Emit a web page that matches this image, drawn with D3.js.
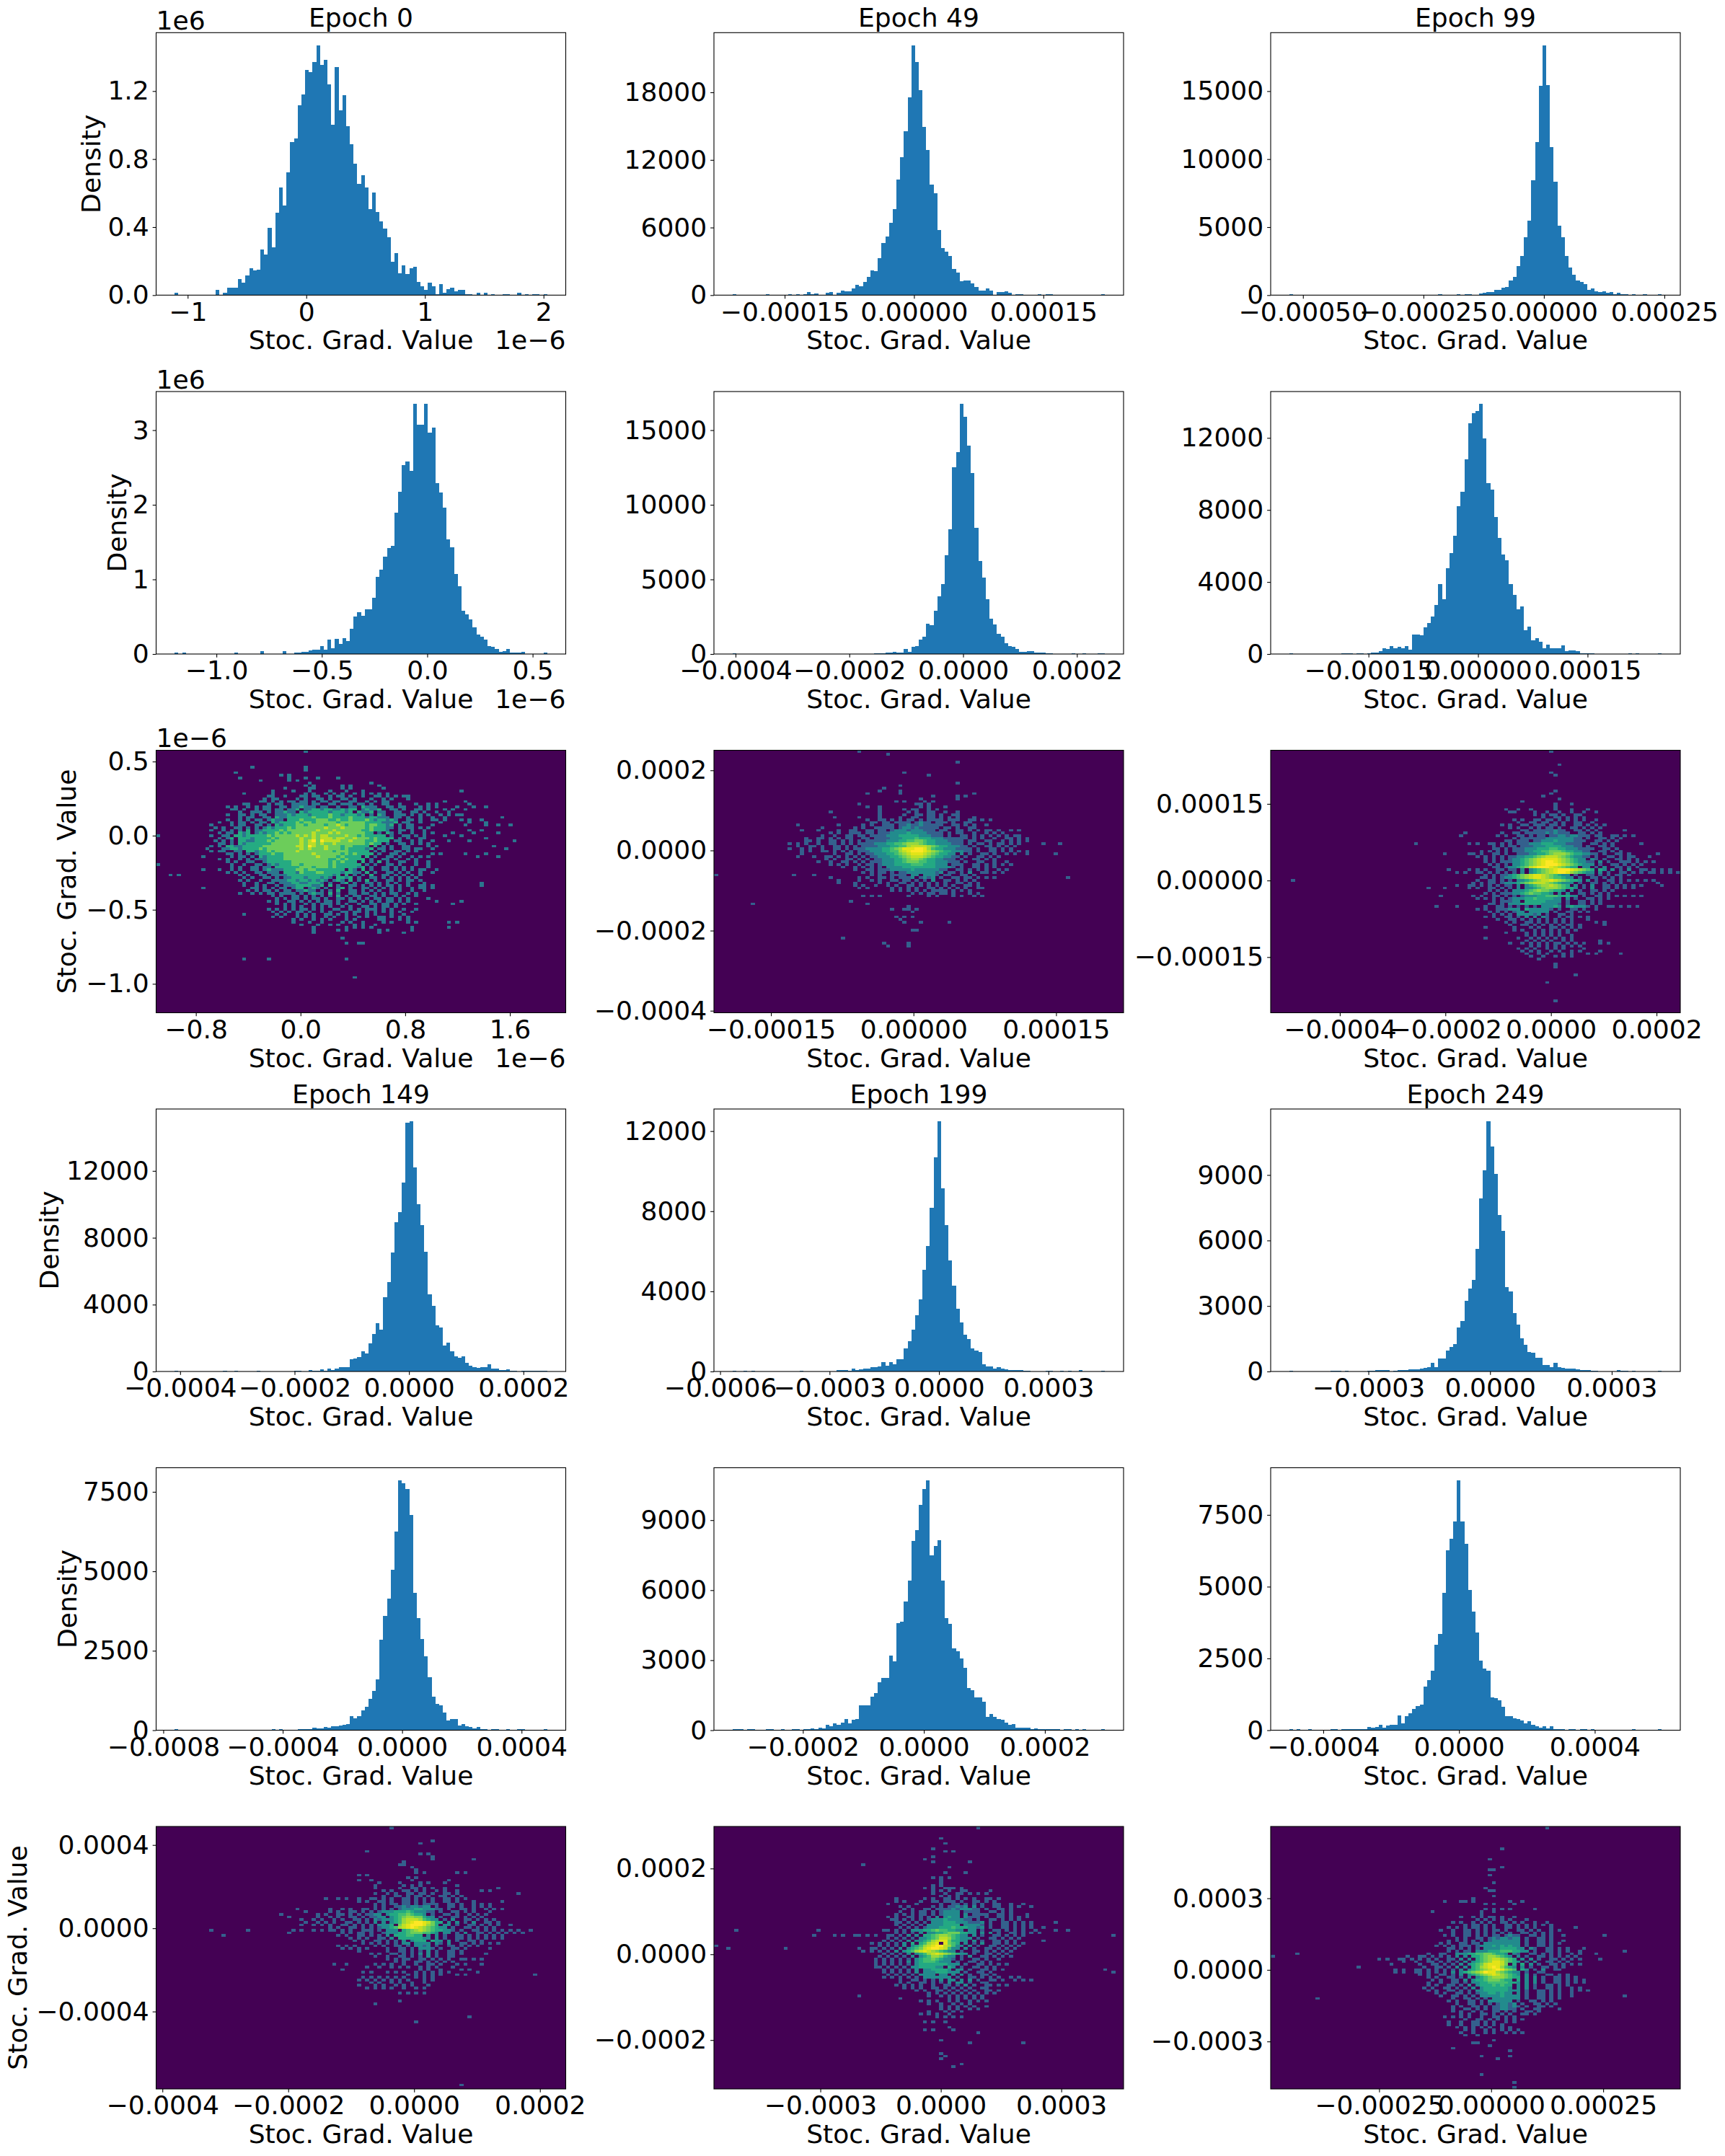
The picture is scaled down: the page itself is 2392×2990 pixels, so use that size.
<!DOCTYPE html>
<html>
<head>
<meta charset="utf-8">
<script src="https://cdn.jsdelivr.net/npm/d3@7"></script>
<style>
  body { margin: 0; background: #fff; }
  text { font-family: "DejaVu Sans", sans-serif; fill: #000; }
</style>
</head>
<body>
<div id="chart"></div>
<script>
// histogram bin heights (100 bins per panel)
const histEpoch0a = [.014,0,0,.003,0,.003,.003,0,.003,0,0,.03,0,.014,.044,.044,.044,.095,.074,.116,.158,.147,.15,.269,.239,.396,.282,.485,.634,.528,.723,.9,.923,1.118,1.181,1.325,1.313,1.372,1.47,1.355,1.385,1.241,1.003,1.343,1.088,1.177,.995,.889,.774,.655,.706,.634,.507,.604,.49,.434,.392,.341,.197,.248,.129,.175,.124,.158,.167,.078,.052,.031,.074,.052,.004,.065,.014,.035,.044,.023,.031,.031,.006,.006,0,.014,0,.014,0,.004,0,0,.004,.004,0,0,.014,0,.004,0,.004,.004,0,.004]
const histEpoch49a = [85,0,0,0,0,0,0,0,0,85,0,0,0,0,0,85,0,85,0,85,280,85,150,0,40,190,280,40,210,400,360,340,600,920,790,1170,1620,2200,2140,3290,4630,5210,6430,7640,10270,12240,14560,17550,22185,20710,18210,14950,12900,9820,9050,5790,4190,3860,3480,2330,2010,1240,1300,1300,1050,700,400,400,600,400,40,280,280,340,235,0,85,85,0,0,0,0,85,0,85,85,0,0,0,0,0,0,0,0,0,0,0,0,0,85]
const histEpoch99a = [70,0,0,0,0,0,0,0,0,0,0,0,0,0,0,0,0,0,0,0,0,0,0,0,0,0,0,0,0,0,0,0,0,0,0,0,0,0,0,0,70,0,0,0,0,70,0,70,70,0,40,120,175,230,230,390,390,550,600,1080,1340,2140,2880,4260,5480,8450,11270,15400,18380,15460,10890,8350,5110,4260,2880,2030,1500,1080,970,810,390,495,280,230,280,175,230,70,175,70,70,0,70,0,0,70,0,0,0,70]
const histEpoch0b = [.02,0,.02,0,0,0,0,0,0,0,0,0,0,0,0,0,.02,0,0,0,0,0,0,.04,0,0,0,0,0,.04,0,0,.02,.02,.03,.03,.05,.06,.06,.11,.06,.19,.08,.2,.14,.21,.17,.34,.5,.56,.51,.6,.6,.75,1.03,1.13,1.3,1.42,1.45,1.89,2.17,2.53,2.58,2.45,3.35,3.07,3.07,3.35,2.97,3.03,2.29,2.16,1.96,1.54,1.43,1.07,.91,.58,.53,.46,.36,.26,.235,.19,.11,.1,.07,.03,.04,.07,.02,.02,.02,.03,0,0,0,0,0,.02]
const histEpoch49b = [60,0,0,0,0,0,0,0,0,0,0,0,0,0,0,0,0,0,0,0,0,0,0,0,0,0,0,0,0,0,0,0,0,0,0,0,0,0,60,60,60,110,110,160,110,110,350,160,500,550,980,1170,2040,1950,2910,3870,4690,6620,8360,12510,13520,16750,15920,13950,12120,8440,6240,5130,3680,2380,1990,1370,1170,740,550,500,350,160,160,210,210,110,110,110,60,60,0,0,0,0,0,60,0,0,60,0,0,0,60,60]
const histEpoch99b = [50,0,0,0,0,0,0,0,0,0,0,0,0,0,50,50,50,0,50,50,0,50,90,90,170,330,290,450,330,410,330,450,250,1090,1090,1050,1490,1730,2090,2730,3890,3050,4770,5610,6570,8200,9000,10800,12800,13360,13480,13880,11960,9480,9120,7600,6450,5530,5210,3890,3290,2490,2650,1330,1530,770,890,690,330,530,330,330,330,490,170,210,210,170,50,50,50,50,0,0,0,0,0,0,0,0,0,50,0,50,0,0,0,0,0,50]
const histEpoch149a = [60,0,0,0,0,0,0,0,0,0,0,0,0,60,0,0,60,0,0,0,0,0,60,0,0,0,0,0,0,0,0,0,60,60,0,0,100,60,60,140,60,190,100,190,270,270,270,750,790,880,1220,1090,1690,2250,2900,2510,4450,5350,7120,8930,9530,11300,14870,14955,12200,10000,8760,7160,4620,3930,2770,2640,1560,1740,1220,920,830,900,530,360,270,230,270,240,430,190,190,100,100,140,60,60,0,60,60,60,60,60,60,60]
const histEpoch199a = [50,0,0,50,0,50,0,0,0,0,0,0,0,0,0,0,0,0,50,0,0,0,0,0,0,0,0,0,85,85,85,50,155,85,120,155,155,230,230,260,480,300,480,370,620,620,1160,1520,2100,2810,3600,5080,6260,8170,10680,12480,9140,7300,5540,4290,3140,2460,1840,1630,1160,1050,980,370,260,260,160,230,160,120,85,85,85,85,50,50,0,0,0,0,50,50,0,0,50,0,50,0,0,85,0,0,0,0,0,50]
const histEpoch249a = [45,0,0,0,0,0,0,0,0,0,0,45,45,45,0,45,0,0,0,0,0,45,45,80,80,80,80,0,45,80,80,80,110,110,110,140,180,210,410,210,600,600,970,1130,1260,2020,2320,3240,3800,4200,5610,7920,9200,11450,10300,9040,7160,6440,3870,3670,2680,2150,1530,1230,900,870,640,640,310,310,210,410,210,180,140,140,140,110,80,80,80,45,45,0,0,0,0,0,80,45,45,0,45,0,0,0,0,0,0,45]
const histEpoch149b = [30,0,0,0,0,0,0,0,0,0,0,0,0,0,0,0,0,0,0,0,0,0,0,0,0,0,30,0,30,0,0,0,0,30,30,30,30,75,50,50,100,75,120,120,140,170,190,440,370,440,620,730,980,1230,1600,2850,3600,4140,5050,6250,7865,7770,7590,6770,4320,3530,2870,2320,1660,1050,830,780,550,300,350,350,140,190,120,100,50,100,30,30,0,30,30,0,0,30,0,0,30,30,0,0,0,0,0,30]
const histEpoch199b = [40,40,40,0,40,40,0,0,0,40,40,0,0,40,0,0,40,40,0,40,40,70,40,100,70,230,165,290,240,320,470,290,440,470,1060,1060,1060,1430,1590,2050,2240,2240,3200,2950,4590,4650,5510,6410,8110,8580,9660,10340,10710,7490,7900,8140,6410,4800,4560,3510,3380,3070,2670,1800,1710,1400,1400,1220,570,690,570,470,440,320,230,260,100,100,100,100,40,70,40,40,40,40,40,40,0,40,40,0,40,0,40,0,0,0,0,40]
const histEpoch249b = [35,0,35,0,0,35,0,0,0,0,0,35,35,0,35,35,35,35,35,35,35,110,85,110,185,85,160,185,185,510,235,490,590,740,840,890,1520,1740,2070,2980,3350,4790,6270,6670,7275,8707,7275,6495,4890,4130,3400,2420,2150,2070,1140,1115,1040,810,490,490,410,385,335,235,310,185,135,85,135,60,135,35,35,35,0,35,35,0,35,35,0,35,0,0,0,0,0,0,0,0,0,0,35,0,0,0,0,0,0,35]

// 2d histogram counts, one entry per row from the top: [first column, one character per column]
const heatEpoch0 = [
[36,'1'],[],[],[],[],[],
[23,'1            1'],
[36,'1'],
[19,'1'],
[30,'1 1'],
[20,'1           1   1  1    1'],
[25,'1      1 1'],
[37,'1              1'],
[36,'1 1      1 1      1'],
[31,'1     11      1 1       1'],
[28,'1    1   1    1   1   1                       1'],
[21,'1      1       1 1  1 1 1  1 1 1 1 1'],
[27,'11  1   11 11  1 11 1  1  11 1 1 11'],
[26,'1 11    1 1  11 1  11 1   1  1 1   1'],
[25,'11 1 1 11 11 1 11 11  11  1 1 11             1    1'],
[21,'11    1 11  1111 11  11 111 11 1  11  1   1  1 1       1'],
[17,'1 1  1 1 11  11 112111 11  1  11 2111  11 11   1 1 1    1   1  1'],
[18,'11 1  1 11 11 112 1122122112122 12112  11 1  11 1   1 1  1'],
[20,'1  111 1 11211 2122222122212 2112 11  11  11 1  1  1'],
[17,'1  11 1 11  1112122212222322122212 1 21  111 1 1 1  1 1 11'],
[20,'1 11  11 2112222223222322223222122111 11 1  1  1  1             1'],
[17,'1  1 1 11 1211 222322233322322322232122121  11 1  11 1   1 1  1'],
[15,'1  1 11 1 11 2122223233233333233333322221112 11  1    1      1   1'],
[13,'1    1 11  11 1 21222332333323343233332332212 1 11    1       1    1  1  1'],
[14,'1 1  11 1 1 12122232333333343334333332322211 1 11 1 1'],
[13,'1  1 1 1 2 112222323333333433343333332232221  11 1  1          1  1'],
[15,'1 11 212 12122323233333433343433333322 1 21 1  1  1 1    1    1     1'],
[0,'1            1  11 2212222232333334343434433334332322222 1  11 1 1    1   1'],
[15,'1 12 22212222323333343343444344334333232222 1 1  11              1'],
[14,'1 1 1 2211222323333334345354444334333223222 11  1 1  1   1    1          1'],
[15,'11 1 21222222333333343443433433333332322 1  11 1 1 1'],
[13,'1 1 22112222233333333443543343332332222 2 1 1  11    1 1             1'],
[12,'1   1122122223233333333434333433323222212 11 1  11 11  1                 1'],
[13,'1 11  11 221223233333433333333233322222 1 1  11 1 1'],
[17,'11 1 1 12223223333333433333323232222 1  11 1      1 1     1    1'],
[11,'1      1 11 1 2122223333333343333232222 2 1  11 1  1 1 1           1    1'],
[15,'1 1  1 1 111222233333333333223232222 1  11 1  1 1'],
[17,'1 1  11  12222223333333332323222 2 1 2 1  11  1  1'],
[0,'1                 1  1  11 12122233233333323222222 1 1  11 1   1  1'],
[18,'1 1  11 11 2222223332333232222212 1  11 1 1 1   1'],
[11,'1   1  1 1  11 12111222332332222222 21 2 1  11 1 1 1 11  1'],
[17,'1 1 1  11 111 2221322233222212211 2 1  11 1 1  1  1'],
[3,'1 1              1 1  11 11112222222222212 2 1 1 2  11 1 1 1 1'],
[21,'1 1  11 1 112221222121 2212 1  11 1 1 1 1 1'],
[20,'1 1  1  11112212212121 121 2 1 2 1  11 1 11 1'],
[21,'1  1  11 11122112221 1  12 1  11 1 1 1  1   1             1'],
[21,'1  1 1  1 1112222112 2 1  11 1 1 1 11 1 1  11 1           1'],
[11,'1           11 1 1 11 122 121 1  12 1  11 1 1 1 1  1 11 1'],
[22,'1 1 11 1 11 11211 1 1 2  11 1 1 1  1 1  1  1'],
[20,'1  1 1 11 1111 1 1211 2 1  11 11 1 1 11  1 1'],
[28,'1 1  11 1 1 1 1 2 1 11  11 1  1 1  1'],
[29,'1 1 11 1 11 1  11 1 1 1 11 11 1 1    1'],
[27,'1 1  11 1 1 1 11 1  11 1 1 1 11 1 1      1     1'],
[29,'1 1 1  1 1 111 1 1  1  11 11 1 1  1        1'],
[31,'1 1 1  1 1 1  1 1  11 1 11 1'],
[27,'1 1 1 1 11 1 1  11  1 1 111 1 1  1  1'],
[28,'1 1 1 11 1  1 1  11 11 1 1 1 1 1  1'],
[21,'1       1 1  1 1 1  11 1 1 1  1 1   1  1'],
[28,'1 1   1 1 1  1 1  1  1 1  11 1 1 1'],
[33,'1 1  1 1 1   1 1     11   1 1'],
[33,'1   1  1    1 1  1    1 1   1 1       1 1'],
[35,'1   1  1 1   1 1  1'],
[38,'1       1 1 1 1         1        1'],
[38,'1     1 1       1 1     1'],
[38,'1               1     1'],[],
[45,'1'],[],
[46,'1  11'],[],[],[],[],[],
[21,'1     1                  1'],[],[],[],[],[],[],
[48,'1'],[],[],[],[],[],[],[],[],[],[],[],[],[],
[33,'1'],[],
[57,'1']
]
const heatEpoch49 = [
[35,'1'],
[42,'1'],[],[],
[59,'1'],[],[],[],
[46,'1'],
[52,'1'],[],[],
[59,'1'],
[45,'1'],
[41,'1'],
[40,'1    1'],
[37,'1       1                 1'],
[53,'1     1 1'],
[50,'1        1'],
[44,'1 1    1 1'],
[35,'1             11 1'],
[37,'1  1         1 1   1'],
[40,'1     1 11  1 1'],
[28,'1           1      1 1  11  1  1'],
[40,'1     1  11 11 1  11'],
[29,'1     1    1    1  11  11 1 1 1   1'],
[37,'1  11 1 1 11 1 1111 111  11 1 1'],
[38,'11 11 1111 1211 111 1  11'],
[20,'1         1     1 1  111 11211211111  11 1 1  1'],
[26,'1       1 1  11111 1221211111 11 1  11'],
[21,'1   1    1  11  11 11 12221222111 11  11 1 1 11 1  1 1'],
[28,'1 1  111 11 1112222322221111 1 11  1  1 1 1'],
[26,'1  1  11 11 111122233333222111 1  11 1 1 1 1 1 11'],
[22,'1  11 1 1 11  11 11112223334333222111111 1 1  1  11 1 1'],
[22,'11 1  11 1 1 1 111112223344554332221111 11  11  1 1 1 1'],
[18,'1 1 1  1  11 1 1 11112223344566654332222111 1 11 1 11 1 1     1   1'],
[20,'1  11 1  11 1 1 11112223344677776543322211 1  11 1 1 1'],
[18,'1  1 1  1  11 1 11122223345688899864332221111 1  11 1 1'],
[21,'1 1  11 1 1 1 1112223344678999876543322211 1  11 1 1 1 1'],
[21,'1       1  11 1 1122233456788876543322 2 1  11 1  1 1  1      1'],
[20,'1   1  11 1 1 1 1 1122233456777654332211 1  11 1 1'],
[27,'1 1  11 1 1 11222334566543322111 1  11 1 1'],
[25,'1  1  11 1 1 1112223345554433222111 1  11  1  1'],
[28,'1 1 1  1 11 12223333444333222 111  11 1 1 1 1'],
[31,'1  1 1 1 1 22223333333322221 1  11 1 1'],
[34,'1  11 11122222322222211  11 1 1 1  1 1'],
[36,'1 1 11 1 11222222212 11 1 2  11 1 1'],
[0,'1                  1    1             1 1  1111 22 2221 11  11 1'],
[28,'1      1 1  11 1 1112 1212 1  11 11 1 1 1                 1'],
[30,'1    1  1 1  11 11 1 1 2  11 1 1 1'],
[30,'1   1     1 1  11 1 1 1 1 1  11 1 1'],
[34,'1 1  1  1 1  11 1 1 1 1 1  11 1'],
[35,'1 1     1 1 1 1  11 1 1 1 1  11'],
[43,'1 1 1 1 1 1111 1 1 1'],
[48,'1 1 11 11 1   1 1'],
[36,'1 1 1      1    1 1   1 1  1 1'],[],
[33,'1'],
[9,'1                           1'],
[47,'1'],
[43,'1  11 1'],
[48,'1'],[],
[44,'1 1 1'],
[45,'1'],
[46,'1   1      1'],[],[],
[48,'11'],[],[],
[31,'1'],[],
[41,'1     1'],
[42,'1    1'],
[],[],[],[],[],[],[],[],[],[],[],[],[],[],[],[],[],[],[],[],[],[],[],[],[],[],[],[],[],[],
[44,'1']
]
const heatEpoch99 = [
[68,'1'],[],[],[],[],
[70,'1'],[],[],
[68,'1'],
[69,'1'],[],[],[],[],[],
[69,'1'],
[68,'1'],
[66,'1'],
[70,'1'],
[61,'1'],
[69,'1   1'],
[69,'1'],
[57,'1  1  1     1   1   1'],
[58,'11    1  1  1  1  1  1'],
[64,'1 1 11 1  11'],
[66,'1  11 1 1 1'],
[59,'1 1  11 11 1 1 1 1  1'],
[60,'1  11 11 1 1  11  1'],
[56,'1 1  11 111 11 1  11 1 1 1'],
[58,'1 1  1 1 11 1  11 1 1 1'],
[61,'11 11111211  11 1 1      1'],
[47,'1        1  11 11111212111  11 1 1'],
[46,'1        1 1  11 1 11 1122122111 11  11 1 1'],
[59,'1 111111222222211 1  11 1 1'],
[57,'11 111 1122232222111  11 1 1'],
[35,'1            1 1  11 1 1 1112223332221111  11 1 1      1'],
[54,'1 1 11 111222333322211 1  11 1'],
[54,'11 1 11122233344332221111  11 1'],
[51,'1 1 1 1 1112233445554332211  11 1 1'],
[42,'1     11 1  11 1  11122334566654332211 1  11 1      1'],
[50,'1 1 1 1 11223345677765432211 1  11 1 11   1'],
[52,'1 1 1 1223456788887654322 21 1  11 1 1'],
[52,'1 1 11122345678998765432211 2 1  111 1 1 1'],
[53,'1 1 1 22345678999876543222 1  11 1 1 1                        1'],
[54,'11 122345789998765433 22 1 2  11 1 1'],
[43,'1    1 1 1  11 11 2 2345678999876543 32 2 1 2  11 1 1 1                    1'],
[45,'1 1  11 1 1 1 1 2 2345678998654322 2 1  11 1 1 11 1 1 1'],
[52,'1 1 11234567887654322 1  11 1 1 11 1'],
[51,'11 1 122345678876544322 1  11 1 1 1'],
[5,'1                                            1  11 1 1 2234567787654332 2 1  11 1 1 1 1 1       1'],
[49,'1 1 11 122234567776543222 1  11 1 1 1        1'],
[45,'1  11 1 1 1 11 2 23456676543 2 1 2  11 1 1 1 1    1    1'],
[38,'1   1     1 1  11 1 1 2 2234566654332 1 2  11 1 1 1'],
[53,'1 1 1 2223456554332 2 1  11 1 1'],
[52,'1 1 1112234544332 2 2  11 1 1 1'],
[41,'1       1 1  11 1 1 12223344433322 1  11 1 1 1 1 1'],
[50,'1 1 1 1 1222334333322 2 1  11 1 1'],
[54,'1 11122 333332222 1  11 1 1'],
[53,'11 1 2223333322221 1  11 1 1'],
[40,'1    1      1  11 1 1 1 1 22232 232221 1  11 1 1 1'],
[50,'1 1  111222 3222221 1  11 1  1'],
[53,'1 1 1 122 22222 1  11 1 1'],
[54,'1 1 1 222212 1  11 1'],
[52,'1 1  11 1 2 2 21  1 11 1 1'],
[55,'1  11 1 1 1 1 1 1 1   1'],
[57,'1 1  11 1 1 1 1 1     1 1'],
[58,'1  11 1 1 1 1 11 1     1'],
[52,'1      1   1 1  11 1 1 1'],
[59,'1 1  1 1 1 1 1 1'],
[57,'1    1 1 1 1 1 1'],
[62,'1 1 1 1 1  1'],
[52,'1       1  1 1 1 1 1 1'],
[62,'1 1 1 1  1 1      1'],
[58,'1  1 1 1 1 11 1 1 1   1 1'],
[63,'1 1 1 1 1 1 1'],
[60,'1 1 1  1 1 1    1'],
[61,'1 1 1  1 1  1 1    1'],
[62,'1  1 1   1 1   1 1     1'],
[63,'1  1  1 1 1'],
[65,'1'],[],
[69,'1'],
[69,'1'],[],[],
[74,'1'],[],[],
[67,'1'],[],[],[],[],[],[],
[69,'1']
]
const heatEpoch149 = [
[57,'1'],[],[],[],[],
[67,'1'],
[64,'1'],[],[],
[51,'1'],
[64,'1 1'],
[67,'1'],
[67,'1         1'],
[60,'1'],
[59,'11'],
[62,'1'],
[63,'1'],
[63,'1 1       1 1'],
[49,'1 1'],
[61,'1 1'],
[49,'1  1         1        1'],
[54,'1    1    1 1   1'],
[53,'1      1 1 1        1'],
[53,'1     1  11 1 1  1            1'],
[55,'1 1  11 1 1  1 1  1     1 1                     1'],
[53,'1  1 1  11 11 1  11 1              1'],
[55,'1  11 1 11 1  11 1 1'],
[41,'1  1 1  1  11 1 1  11 1 1 1  11 1 1'],
[49,'1 1  11 1  11 1 1 1  11 1   1      1'],
[53,'1 1 11 11 1 1111  11 1  1 1 1'],
[53,'1 1  112122122 1  11 1  1 1 1'],
[34,'1       1  1 1  11 1 1 1 12223322211 1  11 1  1 1 1'],
[36,'1     1 1  11 1 1 12223334322211 1  11 1 1   1'],
[30,'1        1 1  11 1 1 1122 2334454332 1  11 1  1 1 1'],
[32,'1      1  1 1  11 1 1122 23456655322 1  11 1 1 1'],
[35,'1  1 1  1 1  11 1 2122234677764322 1 2  11 1 1 1'],
[36,'1  1 1 1  11 1 1 2 2 2346789987533 2 2 1 2  11 1'],
[35,'1  1 1 1  11 1 1 1 2223 5789998653 22 1  11 1 1 1  1                1'],
[42,'1 1  11 1 1 12234678987654322 1  11 1 1 1'],
[13,'1        1          1 1  1 1 11 1 1  111 1 222 3456765433221 1  11 1 1 1 1 1  1'],
[32,'1            1 1 11 1  12223345554432 22 1 2  11 1 1 1 1 1'],
[16,'1                           1 1  11 1 1 2 3334433 2 2 1  11 1 1 1 1 1'],
[47,'1 1 1  11 2 33333322 2 1  11 1 1 1 1 1'],
[48,'1 1  11 1 1 2 2333 322 2 1  11 1'],
[50,'1 1 1 1 1 22 2222 21 2  11 1 1 1 1'],
[44,'1 1 1    1 1  11 1 2212 1  11 1 1 1'],
[45,'1 1 1 1    1  11 1 2221 1  11 1     1'],
[49,'1      1  11 1 1 2 1  11 1'],
[52,'1 1  11 1 1 2 2 1  11 1     1'],
[53,'1  1  11 1 1 2 1  11'],
[56,'1 1 11  11 1 1 1  11 1 1'],
[58,'1 1  11 1 1 1 1'],
[43,'1  1      1 1 1  1  1  11 1   1 1   1'],
[51,'1  1  1 1 1  1 1 1   1'],
[45,'1                  1 1  1    1 1'],
[50,'1 1   1 1 1  1 1 1 1 1      1'],
[61,'1 1 1 1 1   1 1                1'],
[50,'1 1 1 1 1 1  1 1 1'],
[49,'1 1 1 1 1 1 1   1 1'],
[52,'1 1  1 1  1  1'],
[49,'1   1 1  1 1 1   1'],
[51,'1 1 1 1  1  1 1'],[],
[59,'1 1 1 1'],[],[],
[59,'1'],
[53,'1'],[],[],[],[],
[76,'1'],[],
[63,'1'],
[],[],[],[],[],[],[],[],[],[],[],[],[],[],[],[],[],[],[],[],[],[],[],
[74,'1']
]
const heatEpoch199 = [
[64,'1'],[],[],[],
[55,'1'],[],
[56,'1'],[],
[53,'1'],
[56,'1 1'],[],
[53,'1'],
[51,'1'],
[53,'1        1'],
[36,'1'],
[57,'1'],[],
[56,'1    1'],[],
[53,'1 1 1'],
[55,'1'],
[55,'1'],
[53,'1 1'],
[51,'1 1  111 1'],
[53,'1 1 1  11     1'],
[53,'1  1  11 1 1 1'],
[55,'1 1 1'],
[44,'1      1 1  11 1 1 1  11 1'],
[44,'1 1   1  11 111 1  11 1 1'],
[42,'1      1     1  11 1 1 1  11  1  1'],
[45,'1 1     1 1 11212 2 1  11  1 1  1'],
[46,'1 1  11 11112122211 1  11 1'],
[45,'1  1 11 1 12222 1111  11 1 1'],
[44,'1 1 1 11 1 12222 2 1111  11 1   1'],
[42,'1 1  11 1 1 2 2322 2111 1  11 1 1 1'],
[43,'11 1 1 1 12223222211 1  11 1 1 1'],
[44,'11 1 1 1 2223332221112 1  11 1 1 1     1'],
[44,'1 1 1 1 22223333 22221 1  11 1 1 1'],
[45,'1 1 1 122233343332212 1  11 1 1 1  1'],
[5,'1                   1               11 1 1 2223345443322 22 1  11 1 1 1  1    1  1'],
[44,'1 1 1 2 223345553322 2 2 1  11 1 1 1'],
[24,'1    1 1  11 1 1  11 1 2 2 33456654322 2 1  11 1 1 1                     1'],
[42,'1 1 1 1 2234577643222 1  11 1 1 1'],
[41,'1 1 1 2 2234678853322 2 1  11 1 1      1'],
[38,'1 1 1 1 2 3 34678 8543 2 1 2  11 1 1 1'],
[0,'1                                       1 1 1 2 2346789976422 2 1  11 1 1 1                         1 1'],
[3,'1             1                 1  11 1 1 2 2345789987422 2 1  11 1 1 1                             1'],
[36,'1 1 1 1 2 2346787654322 1  11 1 1 1 1'],
[41,'1 1 1 2 2346787654322 1  11 1 1'],
[40,'1 1 1 1 2 234665322 1 2  11 1 1 1'],
[39,'1 1 1 1 1 2344543221 1  11 1  1'],
[39,'1 1 1 1 2 234443222 1  11 1 1'],
[39,'1 1 1 1 1 23333333222 1  11 1 1 1'],
[39,'11 1 1 1 22333322 32 1  11 1 1'],
[41,'1 1 1 1 2 2233332 22 1  11 1 1                        1'],
[41,'1 1 1 1 2 222333222 1  11 1                             1'],
[42,'1 1 1 1 2222 22 2 2 1  11 1                               1'],
[41,'1 1 1 1 1 2222222 1  11 1 1 1  1 1'],
[45,'1  11 1 1 2 22 2 2 1  11 1  1 1 1'],
[45,'1 1  11 1 1 2 22 1  11'],
[44,'1 1 1 1  1  11 1 2 1  11 1 1'],
[46,'1 1 1  11 1 1 1 1  11'],
[49,'1 1  11 1 1 1 1  11 1'],
[52,'1 1 1 1 1 1 1 1 1'],
[35,'1                1  1 1 1 1 1 1'],
[45,'1           1 1 1 1 1'],
[50,'1 1 1  1 1  1 1 1'],
[52,'1  1  1 1 1'],
[55,'1 1 1 1 1  1'],
[55,'1 1 1  1 1'],
[52,'1   1 1 1'],
[50,'1 1 1  1'],
[54,'1 1 1 1'],[],
[51,'1 1  1'],[],
[57,'1'],
[51,'1 1    1'],
[64,'1'],[],[],
[55,'1'],
[62,'1            1'],[],[],[],
[55,'1'],
[56,'1'],
[55,'1'],[],
[60,'1'],
[58,'1']
]
const heatEpoch249 = [
[67,'1'],[],[],[],[],[],[],[],
[56,'1'],[],[],[],
[53,'1'],[],[],
[56,'1'],
[53,'11'],[],
[53,'1'],[],[],
[54,'1'],[],
[52,'1'],
[53,'11'],[],
[54,'1'],
[49,'1'],
[42,'1   11 1        1  1'],
[52,'1 1    1'],[],
[52,'1 1 1 1     1'],
[39,'1           1  1'],
[51,'1'],
[46,'1  1 1 11 1  1'],
[50,'1 1 1 1 1   1'],
[44,'1 1  1 1 1  11 1 1  1  1'],
[47,'1 11 1 1  11 1 1 1 1 1'],
[43,'1 1 1 11 1 1  11 1 1 1   1     1'],
[41,'1  1  11 1 1 11 1  11 1 1  1 1'],
[44,'1  11 1 1 1 1 1  11 1 1 1'],
[42,'1 1  11 1 1 11 1211  11 1 1  1         1'],
[45,'1 1  11 12122122 1  11 1'],
[43,'1 1 1 1 1 12222222 1  11 1  1'],
[41,'1 1  11 11 222222222 1  11 1 1'],
[40,'1 1 1 111 12223232322 1  11 1'],
[43,'11 1 1 1 2222333322 21  11 1 1   1'],
[43,'1 1 11 2223334443322 1  11 1 1  1          1'],
[6,'1                               1  11  2223344554332 21  11 1 1 1  1 1   1'],
[0,'1                                1  11 1 1 1 2 2 3345665432 2 1  11 1 1 1 1'],
[26,'1 1  11 1 1 1 1  11 2 2 3456776543 2 2 1  11 1 1 1    1'],
[32,'1  1  11 1 1 1 2 234568875432 1 2  11 1 1'],
[29,'1      1  11 1 1 2 2345788875 3 3 2 1  11 1 1 1'],
[21,'1               1  11 1 2 2 34678986432 2 1  11 1 1'],
[30,'1 1  11 1 1 1 1 2 234567898654 32 1 2  11'],
[30,'1 1  11 1 1 1 2 234567988654322 1  11'],
[36,'1 1  11 1 2 2345678765432 2 1  11 1 1'],
[38,'1 1  11 1 2 23456665433 2 2 1  11 1 1'],
[39,'1 1  11 2 2334555433 3 2 2 1  11 1 1 1'],
[38,'1  1  11 1 223344444332 2 2 1  11 1 1 1'],
[38,'1 1  11 1 2 233343433 2 2 1  11 1 1'],
[37,'1 1  11 1 1 2 23333332 2 2 1  11 1  1 1'],
[38,'1 1  11 1 1 22333333222 1  11 1 1  1 1 1'],
[40,'1 1  11 1 122332322 2 1  11 1 1  1'],
[41,'1  11 1 1 2222232222 1  11 1 1  1            1'],
[11,'1                                1  11 1 1 2222222 1  11 1 1'],
[43,'1 1  11 1 222222 1  11 1 1'],
[45,'1  11 1 1 12212 1  11 1 1'],
[44,'1 1  11 1 1122121 1  11 1'],
[44,'1  11 1 1 112211 1  11    1'],
[44,'1 1  1 1  11 1 1  11 1'],
[46,'1 1  11 1 1 1  11 1'],
[42,'1 1 1 1  1  11 1 1'],
[47,'1  11 1 1 1 1 1'],
[43,'1  1  11 1 1  1 1'],
[43,'1  1  11 1 1 1'],
[45,'1 1 1 1 1  1 1'],
[47,'1 1  1 1 1 1 1'],
[46,'1  1  1 1  1 1 1'],
[47,'1  1'],[],
[54,'1'],
[49,'11'],
[53,'1'],
[44,'1'],
[58,'1'],[],
[51,'1      1'],
[55,'1'],[],[],[],[],[],
[51,'1'],[],[],
[59,'1'],[],
[59,'1']
]

// epoch labels per panel row, axis limits, ticks
const titlesTop = ['Epoch 0', 'Epoch 49', 'Epoch 99']
const titlesBottom = ['Epoch 149', 'Epoch 199', 'Epoch 249']
const xTicksE0 = [-1, 0, 1, 2]
const yTicksE0 = [0, .4, .8, 1.2]
const xTicksE0b = [-1, -.5, 0, .5]
const yTicksE0b = [0, 1, 2, 3]
const xTicksHeatE0 = [-.8, 0, .8, 1.6]
const yTicksHeatE0 = [-1, -.5, 0, .5]

const histPanels = [
  { row: 0, col: 0, values: histEpoch0a, xLim: [-1.266, 2.187], xTicks: xTicksE0, yTicks: yTicksE0, xFmt: 'd', yFmt: '.1f', xOff: '1e\u22126', yOff: '1e6', title: titlesTop[0], yLabelX: 127 },
  { row: 0, col: 1, values: histEpoch49a, xLim: [-.000232, .000243], xTicks: [-.00015, 0, .00015], yTicks: [0, 6000, 12000, 18000], xFmt: '.5f', title: titlesTop[1] },
  { row: 0, col: 2, values: histEpoch99a, xLim: [-.000567, .000283], xTicks: [-.0005, -.00025, 0, .00025], yTicks: [0, 5000, 10000, 15000], xFmt: '.5f', title: titlesTop[2] },
  { row: 1, col: 0, values: histEpoch0b, xLim: [-1.286, .657], xTicks: xTicksE0b, yTicks: yTicksE0b, xFmt: '.1f', yFmt: 'd', xOff: '1e\u22126', yOff: '1e6', yLabelX: 163 },
  { row: 1, col: 1, values: histEpoch49b, xLim: [-.000438, .000282], xTicks: [-.0004, -.0002, 0, .0002], yTicks: [0, 5000, 10000, 15000], xFmt: '.4f' },
  { row: 1, col: 2, values: histEpoch99b, xLim: [-.000284, .000277], xTicks: [-.00015, 0, .00015], yTicks: [0, 4000, 8000, 12000], xFmt: '.5f' },
  { row: 3, col: 0, values: histEpoch149a, xLim: [-.000442, .000274], xTicks: [-.0004, -.0002, 0, .0002], yTicks: [0, 4000, 8000, 12000], xFmt: '.4f', title: titlesBottom[0], yLabelX: 69 },
  { row: 3, col: 1, values: histEpoch199a, xLim: [-.000617, .000506], xTicks: [-.0006, -.0003, 0, .0003], yTicks: [0, 4000, 8000, 12000], xFmt: '.4f', title: titlesBottom[1] },
  { row: 3, col: 2, values: histEpoch249a, xLim: [-.000541, .000469], xTicks: [-.0003, 0, .0003], yTicks: [0, 3000, 6000, 9000], xFmt: '.4f', title: titlesBottom[2] },
  { row: 4, col: 0, values: histEpoch149b, xLim: [-.000824, .000548], xTicks: [-.0008, -.0004, 0, .0004], yTicks: [0, 2500, 5000, 7500], xFmt: '.4f', yLabelX: 94 },
  { row: 4, col: 1, values: histEpoch199b, xLim: [-.000347, .00033], xTicks: [-.0002, 0, .0002], yTicks: [0, 3000, 6000, 9000], xFmt: '.4f' },
  { row: 4, col: 2, values: histEpoch249b, xLim: [-.000555, .000652], xTicks: [-.0004, 0, .0004], yTicks: [0, 2500, 5000, 7500], xFmt: '.4f' }
]

const heatPanels = [
  { row: 2, col: 0, rows: heatEpoch0, maxCount: 5, xLim: [-1.104, 2.027], yLim: [-1.195, .576], xTicks: xTicksHeatE0, yTicks: yTicksHeatE0, xFmt: '.1f', yFmt: '.1f', xOff: '1e\u22126', yOff: '1e\u22126', yLabelX: 93 },
  { row: 2, col: 1, rows: heatEpoch49, maxCount: 9, xLim: [-.00021, .000221], yLim: [-.000405, .00025], xTicks: [-.00015, 0, .00015], yTicks: [-.0004, -.0002, 0, .0002], xFmt: '.5f', yFmt: '.4f' },
  { row: 2, col: 2, rows: heatEpoch99, maxCount: 9, xLim: [-.000531, .000245], yLim: [-.000259, .000255], xTicks: [-.0004, -.0002, 0, .0002], yTicks: [-.00015, 0, .00015], xFmt: '.4f', yFmt: '.5f' },
  { row: 5, col: 0, rows: heatEpoch149, maxCount: 9, xLim: [-.00041, .000241], yLim: [-.000772, .000489], xTicks: [-.0004, -.0002, 0, .0002], yTicks: [-.0004, 0, .0004], xFmt: '.4f', yFmt: '.4f', yLabelX: 25 },
  { row: 5, col: 1, rows: heatEpoch199, maxCount: 9, xLim: [-.000565, .000455], yLim: [-.000314, .000298], xTicks: [-.0003, 0, .0003], yTicks: [-.0002, 0, .0002], xFmt: '.4f', yFmt: '.4f' },
  { row: 5, col: 2, rows: heatEpoch249, maxCount: 9, xLim: [-.000492, .000422], yLim: [-.000499, .000601], xTicks: [-.00025, 0, .00025], yTicks: [-.0003, 0, .0003], xFmt: '.5f', yFmt: '.4f' }
]

const width = 2392
const height = 2990
const colLefts = [216.5, 990, 1762]
const rowTops = [45.3, 543, 1040.5, 1538, 2035.5, 2533]
const axW = 568
const axH = 364
const fontPx = 36.1
const nBins = 100

const svg = d3.select('#chart')
  .append('svg')
  .attr('width', width)
  .attr('height', height)
  .style('display', 'block')
  .style('background', '#fff')

const drawAxes = (g, p, x, y) => {
  const xAxis = d3.axisBottom(x)
    .tickValues(p.xTicks)
    .tickFormat(d3.format(p.xFmt))
    .tickSize(4.86)
    .tickPadding(4.86)
  const yAxis = d3.axisLeft(y)
    .tickValues(p.yTicks)
    .tickFormat(d3.format(p.yFmt || 'd'))
    .tickSize(4.86)
    .tickPadding(4.86)

  const gx = g.append('g').attr('transform', `translate(0,${axH})`).call(xAxis)
  const gy = g.append('g').call(yAxis)
  for (const a of [gx, gy]) {
    a.select('.domain').remove()
    a.selectAll('line').attr('stroke', '#000').attr('stroke-width', 1.1)
    a.selectAll('text').attr('font-size', fontPx).attr('font-family', '"DejaVu Sans", sans-serif').attr('fill', '#000')
  }

  g.append('rect')
    .attr('width', axW)
    .attr('height', axH)
    .attr('fill', 'none')
    .attr('stroke', '#000')
    .attr('stroke-width', 1.1)

  g.append('text')
    .attr('x', axW / 2)
    .attr('y', axH + 75)
    .attr('text-anchor', 'middle')
    .attr('font-size', fontPx)
    .text('Stoc. Grad. Value')

  if (p.xOff)
    g.append('text')
      .attr('x', axW)
      .attr('y', axH + 75)
      .attr('text-anchor', 'end')
      .attr('font-size', fontPx)
      .text(p.xOff)

  if (p.yOff)
    g.append('text')
      .attr('x', 0)
      .attr('y', -4.5)
      .attr('font-size', fontPx)
      .text(p.yOff)

  if (p.title)
    g.append('text')
      .attr('x', axW / 2)
      .attr('y', -8.5)
      .attr('text-anchor', 'middle')
      .attr('font-size', fontPx)
      .text(p.title)

  if (p.yLabelX !== undefined)
    g.append('text')
      .attr('transform', `translate(${p.yLabelX - colLefts[p.col] + 12},${axH / 2}) rotate(-90)`)
      .attr('text-anchor', 'middle')
      .attr('font-size', fontPx)
      .text(p.values ? 'Density' : 'Stoc. Grad. Value')
}

histPanels.forEach(p => {
  const g = svg.append('g').attr('transform', `translate(${colLefts[p.col]},${rowTops[p.row]})`)
  const x = d3.scaleLinear().domain(p.xLim).range([0, axW])
  const y = d3.scaleLinear().domain([0, d3.max(p.values) * 1.05]).range([axH, 0])

  // limits carry a 5% margin either side of the data range
  const span = (p.xLim[1] - p.xLim[0]) / 1.1
  const lo = p.xLim[0] + span * .05
  const edge = i => lo + i * span / nBins

  g.append('g')
    .attr('shape-rendering', 'crispEdges')
    .selectAll('rect')
    .data(p.values.map((v, i) => ({ v, i })).filter(d => d.v > 0))
    .enter()
    .append('rect')
      .attr('x', d => x(edge(d.i)))
      .attr('width', d => x(edge(d.i + 1)) - x(edge(d.i)))
      .attr('y', d => y(d.v))
      .attr('height', d => y(0) - y(d.v))
      .attr('fill', '#1f77b4')

  drawAxes(g, p, x, y)
})

heatPanels.forEach(p => {
  const g = svg.append('g').attr('transform', `translate(${colLefts[p.col]},${rowTops[p.row]})`)
  const x = d3.scaleLinear().domain(p.xLim).range([0, axW])
  const y = d3.scaleLinear().domain(p.yLim).range([axH, 0])
  const color = d3.scaleSequential(d3.interpolateViridis).domain([0, Math.log1p(p.maxCount)])

  const cells = p.rows.flatMap(([start, s], r) =>
    s && r < nBins ? [...s].map((ch, i) => ({ r, c: start + i, n: ch === ' ' ? 0 : +ch })).filter(d => d.n > 0 && d.c < nBins) : [])

  const dx = (p.xLim[1] - p.xLim[0]) / nBins
  const dy = (p.yLim[1] - p.yLim[0]) / nBins

  g.append('rect')
    .attr('width', axW)
    .attr('height', axH)
    .attr('fill', color(0))

  g.append('g')
    .attr('shape-rendering', 'crispEdges')
    .selectAll('rect')
    .data(cells)
    .enter()
    .append('rect')
      .attr('x', d => x(p.xLim[0] + d.c * dx))
      .attr('width', d => x(p.xLim[0] + (d.c + 1) * dx) - x(p.xLim[0] + d.c * dx))
      .attr('y', d => y(p.yLim[1] - d.r * dy))
      .attr('height', d => y(p.yLim[1] - (d.r + 1) * dy) - y(p.yLim[1] - d.r * dy))
      .attr('fill', d => color(Math.log1p(d.n)))

  drawAxes(g, p, x, y)
})
</script>
</body>
</html>
